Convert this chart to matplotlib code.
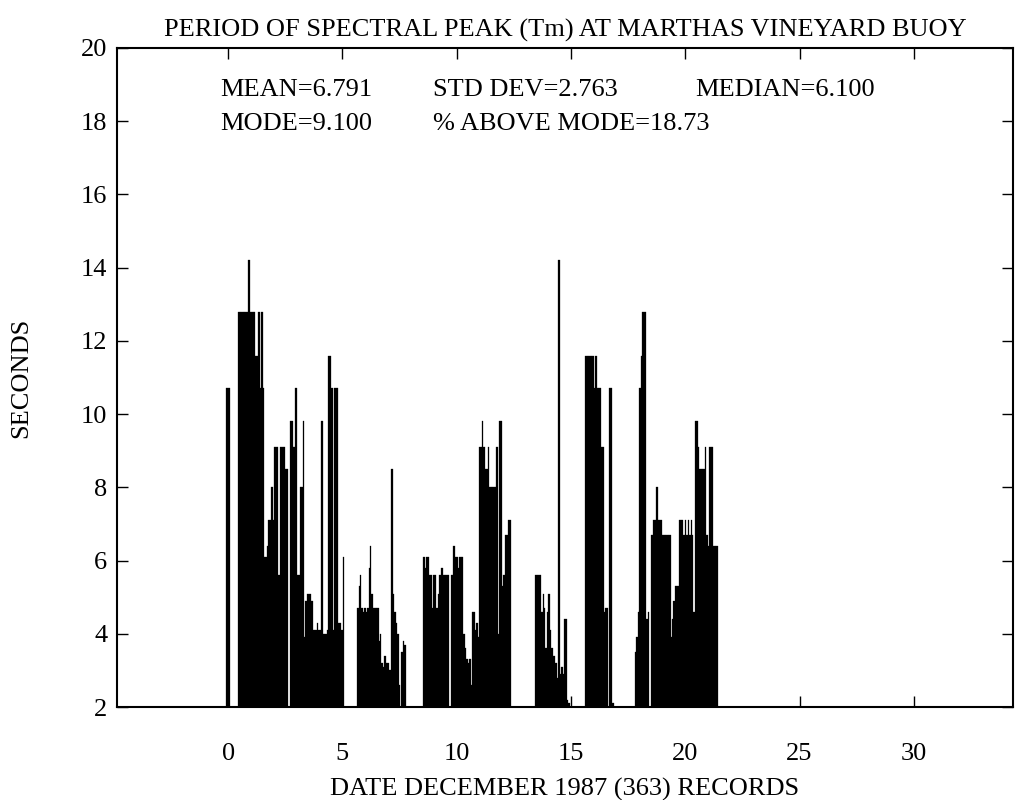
import numpy as np
import matplotlib
matplotlib.use("Agg")
import matplotlib.pyplot as plt

plt.rcParams['font.family'] = ['Liberation Serif', 'DejaVu Serif']

# 记录间隔 (天)
dt = 1.0 / 16

# 每段数据的起始日期 (December 1987, day)
starts = [-0.10, 0.45, 5.65, 8.55, 13.45, 15.62, 17.80]

# 各段的峰值周期 (秒)
seg_a = [10.7, 10.7, 10.7]
seg_b = [12.8, 12.8, 12.8, 12.8, 12.8, 12.8, 12.8, 14.2, 12.8, 12.8,
         12.8, 12.8, 11.6, 11.6, 12.8, 10.7, 12.8, 10.7, 6.1, 6.1,
         6.4, 7.1, 7.1, 8.0, 7.1, 9.1, 9.1, 9.1, 5.6, 9.1,
         9.1, 9.1, 9.1, 8.5, 8.5, 0.0, 9.8, 9.8, 9.1, 9.1,
         10.7, 5.6, 5.6, 8.0, 8.0, 9.8, 3.9, 4.9, 5.1, 5.1,
         5.1, 4.9, 4.1, 4.1, 4.1, 4.3, 4.1, 4.1, 9.8, 4.0,
         4.0, 4.0, 4.1, 11.6, 11.6, 10.7, 4.1, 10.7, 10.7, 10.7,
         4.3, 4.3, 4.1, 6.1]
seg_c = [4.7, 5.3, 5.6, 4.7, 4.6, 4.7, 4.6, 4.7, 5.8, 6.4,
         5.1, 4.7, 4.7, 4.7, 4.7, 3.8, 4.0, 3.2, 3.1, 3.4,
         3.2, 3.2, 3.0, 3.0, 8.5, 5.1, 4.6, 4.3, 4.0, 2.6,
         0.0, 3.5, 3.8, 3.7]
seg_d = [6.1, 5.8, 6.1, 6.1, 5.6, 5.6, 4.7, 5.6, 5.6, 4.7,
         5.1, 5.6, 5.8, 5.8, 5.6, 5.6, 5.6, 5.6, 0.0, 5.6,
         5.6, 6.4, 6.1, 6.1, 5.8, 6.1, 6.1, 6.1, 4.0, 3.6,
         3.3, 3.2, 3.3, 2.6, 4.6, 4.6, 4.1, 4.3, 3.9, 9.1,
         9.1, 9.8, 9.1, 8.5, 8.5, 9.1, 8.0, 8.0, 8.0, 8.0,
         8.0, 9.1, 4.0, 9.8, 9.8, 5.3, 5.6, 6.7, 6.7, 7.1,
         7.1]
seg_e = [5.6, 5.6, 5.6, 5.6, 4.6, 5.1, 4.7, 3.6, 4.6, 5.1,
         4.1, 3.6, 3.4, 3.4, 3.2, 2.8, 14.2, 2.9, 3.1, 2.9,
         4.4, 4.4, 2.2, 2.1]
seg_f = [11.6, 11.6, 11.6, 11.6, 11.6, 11.6, 10.7, 11.6, 10.7, 10.7,
         10.7, 9.1, 9.1, 4.6, 4.7, 4.7, 0.0, 10.7, 10.7, 2.1]
seg_g = [3.5, 3.9, 4.6, 10.7, 11.6, 12.8, 12.8, 12.8, 4.4, 4.6,
         0.0, 6.7, 6.7, 7.1, 7.1, 8.0, 7.1, 7.1, 7.1, 6.7,
         6.7, 6.7, 6.7, 6.7, 6.7, 3.9, 4.4, 4.9, 5.3, 5.3,
         5.3, 7.1, 7.1, 7.1, 6.7, 7.1, 6.7, 7.1, 6.7, 7.1,
         6.7, 4.6, 9.8, 9.8, 9.1, 8.5, 8.5, 8.5, 8.5, 9.1,
         6.7, 6.4, 9.1, 9.1, 9.1, 6.4, 6.4, 6.4]
segments = [seg_a, seg_b, seg_c, seg_d, seg_e, seg_f, seg_g]

stats_line1 = ['MEAN=6.791', 'STD DEV=2.763', 'MEDIAN=6.100']
stats_line2 = ['MODE=9.100', '% ABOVE MODE=18.73']

# 拼接成一条时间序列
days = np.concatenate([s + dt * np.arange(len(v)) for s, v in zip(starts, segments)])
period = np.concatenate([np.array(v) for v in segments])

fig = plt.figure(figsize=(10.19, 8), dpi=100)
ax = fig.add_axes([0.1148, 0.11625, 0.8793, 0.82375])

ax.bar(days, period, width=dt, align='edge', color='k', edgecolor='k', linewidth=0.2)

ax.set_xlim(-4.86, 34.34)
ax.set_ylim(2, 20)
ax.set_xticks([0, 5, 10, 15, 20, 25, 30])
ax.set_yticks(np.arange(2, 21, 2))
ax.tick_params(direction='in', top=True, right=True, length=8, width=1,
               labelsize=19)
ax.tick_params(axis='x', pad=26)
ax.tick_params(axis='y', pad=7)
for sp in ax.spines.values():
    sp.set_linewidth(1.5)

ax.set_title('PERIOD OF SPECTRAL PEAK (Tm) AT MARTHAS VINEYARD BUOY',
             fontsize=19, pad=8)
ax.set_xlabel('DATE DECEMBER 1987 (363) RECORDS', fontsize=19, labelpad=9)
ax.set_ylabel('SECONDS', fontsize=19)
ax.yaxis.set_label_coords(-0.095, 0.5)

# 统计量文字
for x, s in zip([-0.35, 8.97, 20.43], stats_line1):
    ax.text(x, 18.85, s, fontsize=19, va='center', ha='left')
for x, s in zip([-0.35, 8.97], stats_line2):
    ax.text(x, 17.93, s, fontsize=19, va='center', ha='left')

plt.savefig('out.png', dpi=100)
